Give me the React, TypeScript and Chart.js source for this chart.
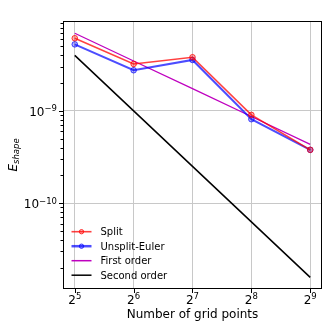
import React, { useEffect, useRef } from "react";
import { Chart, registerables } from "chart.js";

Chart.register(...registerables);

// ---- data ----
const gridPoints = [32, 64, 128, 256, 512];
const gridExponents = [5, 6, 7, 8, 9];
const splitErr = [6.14e-9, 3.23e-9, 3.82e-9, 9.05e-10, 3.78e-10];
const unsplitErr = [5.27e-9, 2.76e-9, 3.57e-9, 8.13e-10, 3.78e-10];
const firstOrder = [6.95e-9, 3.475e-9, 1.74e-9, 8.69e-10, 4.34e-10];
const secondOrder = [4.0e-9, 1.0e-9, 2.5e-10, 6.25e-11, 1.5625e-11];
const seriesLabels = ["Split", "Unsplit-Euler", "First order", "Second order"];
const yMajorTicks = [1e-10, 1e-9];
const yMajorExponents = ["−10", "−9"];
const yMinorTicks = [
  2e-11, 3e-11, 4e-11, 5e-11, 6e-11, 7e-11, 8e-11, 9e-11,
  2e-10, 3e-10, 4e-10, 5e-10, 6e-10, 7e-10, 8e-10, 9e-10,
  2e-9, 3e-9, 4e-9, 5e-9, 6e-9, 7e-9, 8e-9, 9e-9,
];
const xTitle = "Number of grid points";
const yTitleMain = "E";
const yTitleSub = "shape";

const FONT = "'DejaVu Sans', sans-serif";

const colors = {
  split: "rgba(255,0,0,0.75)",
  splitFill: "rgba(255,0,0,0.3)",
  unsplit: "rgba(0,0,255,0.7)",
  unsplitFill: "rgba(0,0,255,0.3)",
  first: "#bf00bf",
  second: "#000000",
};

const toPts = (ys: number[]) => gridPoints.map((x, i) => ({ x, y: ys[i] }));

const decorPlugin = {
  id: "decor",
  afterDraw(chart: any) {
    const ctx = chart.ctx as CanvasRenderingContext2D;
    const { left, right, top, bottom } = chart.chartArea;
    const xs = chart.scales.x;
    const ys = chart.scales.y;
    ctx.save();
    // frame
    ctx.strokeStyle = "#000";
    ctx.lineWidth = 1;
    ctx.strokeRect(Math.round(left) + 0.5, Math.round(top) + 0.5, Math.round(right - left) - 1, Math.round(bottom - top) - 1);
    // ticks
    ctx.beginPath();
    yMajorTicks.forEach((v) => {
      const p = Math.round(ys.getPixelForValue(v)) + 0.5;
      ctx.moveTo(left, p);
      ctx.lineTo(left - 4, p);
    });
    yMinorTicks.forEach((v) => {
      const p = Math.round(ys.getPixelForValue(v)) + 0.5;
      ctx.moveTo(left, p);
      ctx.lineTo(left - 2.5, p);
    });
    gridPoints.forEach((v) => {
      const p = Math.round(xs.getPixelForValue(v)) + 0.5;
      ctx.moveTo(p, bottom);
      ctx.lineTo(p, bottom + 4);
    });
    ctx.stroke();

    ctx.fillStyle = "#000";
    ctx.textBaseline = "alphabetic";
    // y labels
    yMajorTicks.forEach((v, i) => {
      const p = ys.getPixelForValue(v);
      ctx.font = `8.5px ${FONT}`;
      const sup = yMajorExponents[i];
      const supW = ctx.measureText(sup).width;
      ctx.font = `12px ${FONT}`;
      const baseW = ctx.measureText("10").width;
      const xr = left - 6;
      ctx.textAlign = "left";
      ctx.fillText("10", xr - supW - baseW, p + 5);
      ctx.font = `8.5px ${FONT}`;
      ctx.fillText(sup, xr - supW, p + 0.5);
    });
    // x labels
    gridPoints.forEach((v, i) => {
      const p = xs.getPixelForValue(v);
      ctx.font = `8.5px ${FONT}`;
      const sup = String(gridExponents[i]);
      const supW = ctx.measureText(sup).width;
      ctx.font = `12px ${FONT}`;
      const baseW = ctx.measureText("2").width;
      const x0 = p - (supW + baseW) / 2;
      ctx.textAlign = "left";
      ctx.fillText("2", x0, bottom + 14.5);
      ctx.font = `8.5px ${FONT}`;
      ctx.fillText(sup, x0 + baseW, bottom + 10);
    });
    // x title
    ctx.font = `12px ${FONT}`;
    ctx.textAlign = "center";
    ctx.fillText(xTitle, (left + right) / 2, 318);
    // y title
    ctx.save();
    ctx.translate(17, (top + bottom) / 2);
    ctx.rotate(-Math.PI / 2);
    ctx.font = `italic 12px ${FONT}`;
    const wE = ctx.measureText(yTitleMain).width;
    ctx.font = `italic 8.5px ${FONT}`;
    const wS = ctx.measureText(yTitleSub).width;
    const start = -(wE + wS) / 2;
    ctx.textAlign = "left";
    ctx.font = `italic 12px ${FONT}`;
    ctx.fillText(yTitleMain, start, 0);
    ctx.font = `italic 8.5px ${FONT}`;
    ctx.fillText(yTitleSub, start + wE, 2);
    ctx.restore();

    // legend
    const legendItems = [
      { label: seriesLabels[0], color: colors.split, fill: colors.splitFill, lw: 1.6, marker: true },
      { label: seriesLabels[1], color: colors.unsplit, fill: colors.unsplitFill, lw: 2.5, marker: true },
      { label: seriesLabels[2], color: colors.first, fill: "", lw: 1.5, marker: false },
      { label: seriesLabels[3], color: colors.second, fill: "", lw: 1.5, marker: false },
    ];
    const lx0 = left + 8.5;
    const lx1 = left + 28.5;
    legendItems.forEach((it, i) => {
      const y = 231.7 + i * 14.5;
      ctx.strokeStyle = it.color;
      ctx.lineWidth = it.lw;
      ctx.beginPath();
      ctx.moveTo(lx0, y);
      ctx.lineTo(lx1, y);
      ctx.stroke();
      if (it.marker) {
        ctx.beginPath();
        ctx.arc((lx0 + lx1) / 2, y, 2.2, 0, Math.PI * 2);
        ctx.fillStyle = it.fill;
        ctx.fill();
        ctx.lineWidth = 1;
        ctx.stroke();
      }
      ctx.fillStyle = "#000";
      ctx.font = `10px ${FONT}`;
      ctx.textAlign = "left";
      ctx.fillText(it.label, left + 37.5, y + 3.6);
    });
    ctx.restore();
  },
};

export default function App() {
  const ref = useRef<HTMLCanvasElement | null>(null);
  useEffect(() => {
    document.body.style.margin = "0";
    const canvas = ref.current!;
    const chart = new Chart(canvas, {
      type: "line",
      data: {
        datasets: [
          {
            label: seriesLabels[0],
            data: toPts(splitErr),
            borderColor: colors.split,
            backgroundColor: colors.splitFill,
            pointBackgroundColor: colors.splitFill,
            pointBorderColor: colors.split,
            borderWidth: 1.6,
            pointRadius: 2.8,
            pointBorderWidth: 1,
          },
          {
            label: seriesLabels[1],
            data: toPts(unsplitErr),
            borderColor: colors.unsplit,
            backgroundColor: colors.unsplitFill,
            pointBackgroundColor: colors.unsplitFill,
            pointBorderColor: colors.unsplit,
            borderWidth: 2,
            pointRadius: 2.8,
            pointBorderWidth: 1,
          },
          {
            label: seriesLabels[2],
            data: toPts(firstOrder),
            borderColor: colors.first,
            borderWidth: 1.3,
            pointRadius: 0,
          },
          {
            label: seriesLabels[3],
            data: toPts(secondOrder),
            borderColor: colors.second,
            borderWidth: 1.5,
            pointRadius: 0,
          },
        ],
      },
      options: {
        animation: false,
        responsive: false,
        devicePixelRatio: 1,
        layout: { padding: { top: 21, right: 7, left: 0, bottom: 0 } },
        plugins: { legend: { display: false }, tooltip: { enabled: false } },
        elements: { line: { tension: 0 } },
        scales: {
          x: {
            type: "logarithmic",
            min: 27.86,
            max: 588.1,
            afterBuildTicks: (s: any) => {
              s.ticks = gridPoints.map((v) => ({ value: v }));
            },
            afterFit: (s: any) => {
              s.height = 40;
            },
            ticks: { display: false },
            grid: { color: "#c8c8c8", lineWidth: 1, drawTicks: false },
            border: { display: false },
          },
          y: {
            type: "logarithmic",
            min: 1.17e-11,
            max: 9.44e-9,
            afterBuildTicks: (s: any) => {
              s.ticks = yMajorTicks.map((v) => ({ value: v }));
            },
            afterFit: (s: any) => {
              s.width = 63;
            },
            ticks: { display: false },
            grid: { color: "#c8c8c8", lineWidth: 1, drawTicks: false },
            border: { display: false },
          },
        },
      } as any,
      plugins: [decorPlugin],
    });
    return () => chart.destroy();
  }, []);
  return (
    <div style={{ position: "absolute", left: 0, top: 0, width: 329, height: 329 }}>
      <canvas ref={ref} width={329} height={329} style={{ width: 329, height: 329 }} />
    </div>
  );
}
